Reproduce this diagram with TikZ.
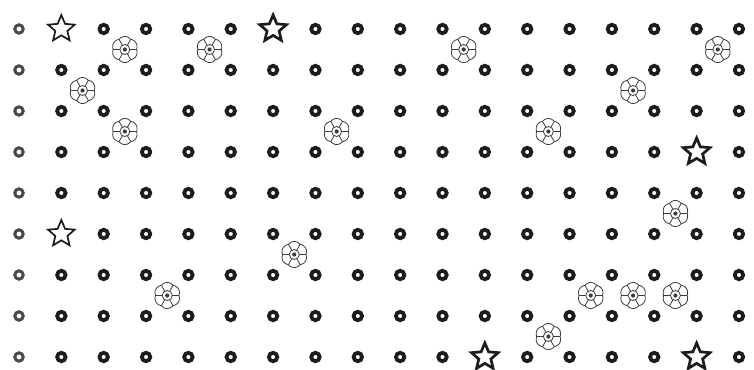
\documentclass[tikz,border=0pt]{standalone}
\usetikzlibrary{shapes.geometric}
\definecolor{cInk}{RGB}{28,28,28}
\definecolor{cFlower}{RGB}{60,60,60}
\tikzset{
	gdot/.style={circle, draw=cInk, line width=3.8pt, minimum size=8.4pt,
		inner sep=0pt},
	gdotlight/.style={gdot, draw=cInk!80, line width=3pt},
	starmark/.style={star, star points=5, star point ratio=2.2,
		minimum size=28pt, inner sep=0pt, draw=cInk, fill=white},
	thin/.style={line width=1.7pt},
	bold/.style={line width=2.7pt},
	flower/.pic={
		\draw[cFlower, line width=0.8pt] plot[domain=0:360, samples=181]
			(\x:{13*(0.9+0.1*abs(sin(3*\x)))}) -- cycle;
		\draw[cFlower, line width=0.8pt] (0,0) circle (5);
		\foreach \a in {0,60,...,300}
			\draw[cFlower, line width=0.8pt] (\a:5) -- (\a:11.7);
		\fill[cFlower] (0,0) circle (2.1);
	},
}
\begin{document}
\begin{tikzpicture}[x=1pt, y=-1pt]
	\useasboundingbox[fill=white] (0,0) rectangle (754,369);
	% grid of rings, star sites left out
	\foreach \c in {0,...,17}{
		\foreach \r in {0,...,8}{
			\pgfmathtruncatemacro\isstar{(\c==1&&\r==0)||(\c==6&&\r==0)||(\c==16&&\r==3)||(\c==1&&\r==5)||(\c==11&&\r==8)||(\c==16&&\r==8)}
			\ifnum\isstar=0
				\ifnum\c=0
					\node[gdotlight] (d-\c-\r) at ({19+42.35*\c},{29+41*\r}) {};
				\else
					\node[gdot] (d-\c-\r) at ({19+42.35*\c},{29+41*\r}) {};
				\fi
			\fi
		}
	}
	% stars
	\foreach \c/\r/\w in {1/0/thin, 6/0/bold, 16/3/bold, 1/5/thin, 11/8/bold, 16/8/bold}
		\node[starmark, \w] (s-\c-\r) at ({19+42.35*\c},{29+41*\r}) {};
	% flowers between the sites
	\foreach \c/\r in {2/0, 4/0, 10/0, 16/0, 1/1, 14/1, 2/2, 7/2, 12/2,
		15/4, 6/5, 3/6, 13/6, 14/6, 15/6, 12/7}
		\pic (f-\c-\r) at ({19+42.35*(\c+0.5)},{29+41*(\r+0.5)}) {flower};
\end{tikzpicture}
\end{document}
